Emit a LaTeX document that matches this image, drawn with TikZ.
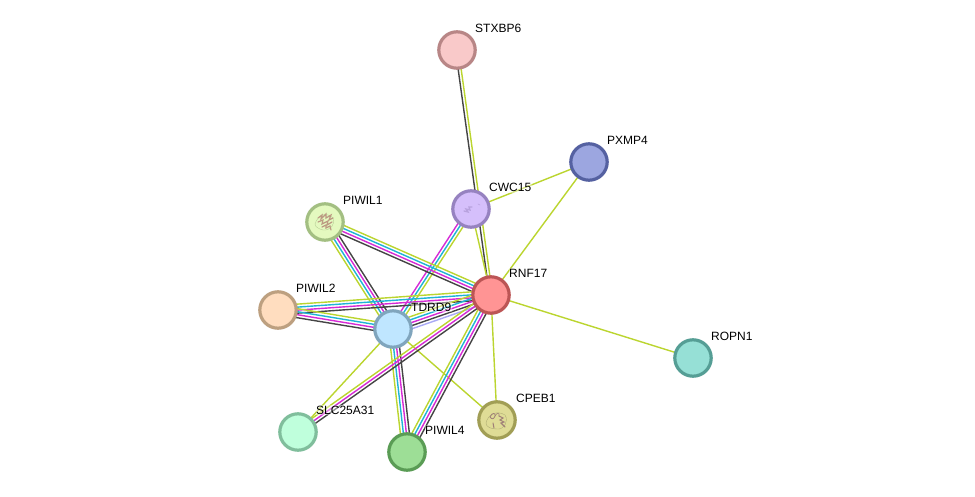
\documentclass[tikz,border=0pt]{standalone}
\usepackage{fontspec}
\setmainfont{Liberation Sans}
\usetikzlibrary{calc,backgrounds}
\definecolor{lgreen}{HTML}{BBD52F}
\definecolor{lcyan}{HTML}{1FB4D6}
\definecolor{lmag}{HTML}{D62AD6}
\definecolor{ldark}{HTML}{454545}
\definecolor{lperi}{HTML}{A9A9F5}
% Fill and rim of each protein
\definecolor{fStx}{HTML}{F9C9C9}\definecolor{rStx}{HTML}{B88686}
\definecolor{fPxm}{HTML}{9CA6E0}\definecolor{rPxm}{HTML}{5561A1}
\definecolor{fCwc}{HTML}{D5BFFB}\definecolor{rCwc}{HTML}{9682C0}
\definecolor{fPa}{HTML}{E4F9BF}\definecolor{rPa}{HTML}{A3BF82}
\definecolor{fRnf}{HTML}{FF9494}\definecolor{rRnf}{HTML}{BC5555}
\definecolor{fPb}{HTML}{FFDDBF}\definecolor{rPb}{HTML}{BDA080}
\definecolor{fTdr}{HTML}{BFE6FF}\definecolor{rTdr}{HTML}{80A5BD}
\definecolor{fRop}{HTML}{96E0D6}\definecolor{rRop}{HTML}{559E95}
\definecolor{fSlc}{HTML}{BFFFDC}\definecolor{rSlc}{HTML}{80BE9C}
\definecolor{fPd}{HTML}{9DDE96}\definecolor{rPd}{HTML}{5A9C55}
\definecolor{fCpe}{HTML}{DFDC96}\definecolor{rCpe}{HTML}{A19E55}
% Fold sketch tints
\definecolor{foldA}{HTML}{B7CE96}
\definecolor{foldB}{HTML}{BC9A82}
\definecolor{foldC}{HTML}{B0AE74}
\definecolor{foldD}{HTML}{A08078}
\definecolor{foldE}{HTML}{B8A2DE}
\tikzset{
  x=1pt,y=-1pt,
  protein/.style 2 args={circle,draw=#2,fill=#1,line width=3.2pt,minimum size=36.4pt,inner sep=0pt},
  tag/.style={font=\fontsize{12}{12}\selectfont,text=black,anchor=base west,inner sep=0.5pt,fill=white,fill opacity=.4,text opacity=1},
}
% One strand of a connector, displaced sideways by #4 pt
\newcommand{\strand}[4]{\draw[#3,line width=1.4pt] ($(#1.center)!#4pt!90:(#2.center)$) -- ($(#2.center)!#4pt!-90:(#1.center)$);}
\begin{document}
\begin{tikzpicture}
\useasboundingbox (0,0) rectangle (975,497);

% Proteins
\node[protein={fStx}{rStx}] (stxbp6) at (457,50) {};
\node[protein={fPxm}{rPxm}] (pxmp4) at (589,162) {};
\node[protein={fCwc}{rCwc}] (cwc15) at (471,209) {};
\node[protein={fPa}{rPa}] (piwil1) at (325,222) {};
\node[protein={fRnf}{rRnf}] (rnf17) at (491,295) {};
\node[protein={fPb}{rPb}] (piwil2) at (278,310) {};
\node[protein={fTdr}{rTdr}] (tdrd9) at (393,329) {};
\node[protein={fRop}{rRop}] (ropn1) at (693,358) {};
\node[protein={fSlc}{rSlc}] (slc) at (298,432) {};
\node[protein={fPd}{rPd}] (piwil4) at (407,452) {};
\node[protein={fCpe}{rCpe}] (cpeb1) at (497,420) {};

% Fold sketches inside the proteins with a known structure
\begin{scope}[shift={(piwil1.center)},line cap=round]
  \draw[foldA,line width=.4pt] (-10,2) .. controls (-7,-8) and (2,-10) .. (8,-4) .. controls (11,2) and (5,9) .. (-2,8) .. controls (-6,7) and (-10,5) .. (-10,2);
  \draw[foldB,line width=1.2pt] (-7,-4) -- (-3,-7) -- (-4,-3) -- (1,-8) -- (1,-4) -- (6,-7) -- (4,-2) -- (8,-4);
  \draw[foldB,line width=1.2pt] (-7,0) -- (-2,-2) -- (-3,2) -- (3,-1) -- (2,3) -- (7,0);
  \draw[foldB,line width=1.2pt] (-3,5) -- (1,3) -- (1,6) -- (5,4) -- (6,8);
\end{scope}
\begin{scope}[shift={(cpeb1.center)},line cap=round]
  \draw[foldC,line width=.4pt] (-11,3) .. controls (-9,-6) and (0,-10) .. (8,-5) .. controls (12,1) and (7,10) .. (0,9) .. controls (-6,9) and (-11,7) .. (-11,3);
  \draw[foldD,line width=.8pt] (-7,-3) .. controls (-5,-8) and (-1,-7) .. (-2,-4) .. controls (-3,-1) and (-5,0) .. (-7,-3);
  \draw[foldD,line width=1.1pt] (2,-4) -- (6,-2) -- (3,0) -- (7,2) -- (4,3) -- (8,7);
  \draw[foldD,line width=1pt] (-4,3) -- (-3,8);
  \draw[foldD,line width=.6pt] (-2,-4) .. controls (0,-8) and (3,-7) .. (2,-4);
\end{scope}
\begin{scope}[shift={(cwc15.center)},line cap=round]
  \draw[foldE,line width=1.3pt] (-7,2) -- (-3,3) -- (-5,0) -- (-1,1) -- (-2,-2) -- (1,-2);
  \draw[foldE,line width=.6pt] (7,-5) -- (9,-4);
\end{scope}

% Connectors, underneath the proteins
\begin{scope}[on background layer]
  \fill[white] (0,0) rectangle (975,497);
  \strand{stxbp6}{rnf17}{ldark}{-1.5}
  \strand{stxbp6}{rnf17}{lgreen}{1.5}
  \strand{cwc15}{rnf17}{lgreen}{0}
  \strand{cwc15}{pxmp4}{lgreen}{0}
  \strand{pxmp4}{rnf17}{lgreen}{0}
  \strand{rnf17}{ropn1}{lgreen}{0}
  \strand{rnf17}{cpeb1}{lgreen}{0}
  \strand{tdrd9}{cpeb1}{lgreen}{0}
  \strand{tdrd9}{slc}{lgreen}{0}

  \strand{cwc15}{tdrd9}{lmag}{-3}
  \strand{cwc15}{tdrd9}{lcyan}{0}
  \strand{cwc15}{tdrd9}{lgreen}{3}

  \strand{piwil1}{rnf17}{lgreen}{4.5}
  \strand{piwil1}{rnf17}{lcyan}{1.5}
  \strand{piwil1}{rnf17}{lmag}{-1.5}
  \strand{piwil1}{rnf17}{ldark}{-4.5}

  \strand{piwil1}{tdrd9}{ldark}{4.5}
  \strand{piwil1}{tdrd9}{lmag}{1.5}
  \strand{piwil1}{tdrd9}{lcyan}{-1.5}
  \strand{piwil1}{tdrd9}{lgreen}{-4.5}

  \strand{piwil2}{rnf17}{lgreen}{4.5}
  \strand{piwil2}{rnf17}{lcyan}{1.5}
  \strand{piwil2}{rnf17}{lmag}{-1.5}
  \strand{piwil2}{rnf17}{ldark}{-4.5}

  \strand{piwil2}{tdrd9}{lgreen}{4.5}
  \strand{piwil2}{tdrd9}{lcyan}{1.5}
  \strand{piwil2}{tdrd9}{lmag}{-1.5}
  \strand{piwil2}{tdrd9}{ldark}{-4.5}

  \strand{tdrd9}{rnf17}{lgreen}{6}
  \strand{tdrd9}{rnf17}{lcyan}{3}
  \strand{tdrd9}{rnf17}{lmag}{0}
  \strand{tdrd9}{rnf17}{ldark}{-3}
  \strand{tdrd9}{rnf17}{lperi}{-6}

  \strand{tdrd9}{piwil4}{lgreen}{-4.5}
  \strand{tdrd9}{piwil4}{lcyan}{-1.5}
  \strand{tdrd9}{piwil4}{lmag}{1.5}
  \strand{tdrd9}{piwil4}{ldark}{4.5}

  \strand{rnf17}{piwil4}{lgreen}{-4.5}
  \strand{rnf17}{piwil4}{lcyan}{-1.5}
  \strand{rnf17}{piwil4}{lmag}{1.5}
  \strand{rnf17}{piwil4}{ldark}{4.5}

  \strand{rnf17}{slc}{lgreen}{-3}
  \strand{rnf17}{slc}{lmag}{0}
  \strand{rnf17}{slc}{ldark}{3}
\end{scope}

% Protein names
\node[tag] (lstxbp6) at (474.5,33) {STXBP6};
\node[tag] (lpxmp4) at (606.5,145) {PXMP4};
\node[tag] (lcwc15) at (488.5,192) {CWC15};
\node[tag] (lpiwil1) at (342.5,205) {PIWIL1};
\node[tag] (lrnf17) at (508.5,277) {RNF17};
\node[tag] (lpiwil2) at (295.5,292) {PIWIL2};
\node[tag] (ltdrd9) at (410.5,311) {TDRD9};
\node[tag] (lropn1) at (710.5,340) {ROPN1};
\node[tag] (lslc) at (315.5,414) {SLC25A31};
\node[tag] (lpiwil4) at (424.5,434) {PIWIL4};
\node[tag] (lcpeb1) at (515.5,402) {CPEB1};
\end{tikzpicture}
\end{document}
